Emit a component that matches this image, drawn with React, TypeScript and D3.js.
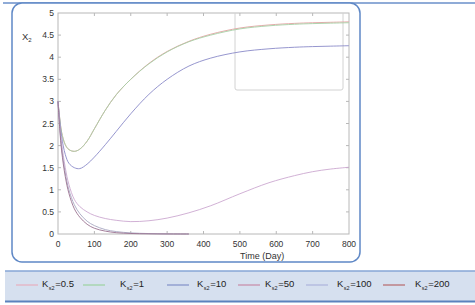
import * as d3 from "d3";
import { useEffect, useRef } from "react";

const times = [0, 5, 10, 20, 30, 45, 60, 80, 100, 130, 160, 200, 250, 300, 360, 420, 500, 580, 650, 700, 750, 800];

const ks05 = [3.0, 2.6, 2.3, 2.02, 1.91, 1.87, 1.92, 2.1, 2.38, 2.8, 3.15, 3.5, 3.86, 4.13, 4.36, 4.52, 4.66, 4.73, 4.765, 4.78, 4.79, 4.8];
const ks1 = [3.0, 2.6, 2.3, 2.02, 1.91, 1.87, 1.92, 2.1, 2.38, 2.8, 3.15, 3.5, 3.85, 4.12, 4.35, 4.5, 4.64, 4.71, 4.745, 4.76, 4.77, 4.78];
const ks10 = [3.0, 2.55, 2.2, 1.8, 1.6, 1.5, 1.48, 1.58, 1.74, 2.02, 2.32, 2.72, 3.16, 3.5, 3.8, 3.98, 4.12, 4.19, 4.225, 4.24, 4.25, 4.26];
const ks50 = [3.0, 2.45, 2.05, 1.5, 1.12, 0.78, 0.62, 0.5, 0.42, 0.35, 0.31, 0.28, 0.3, 0.36, 0.48, 0.64, 0.91, 1.16, 1.32, 1.41, 1.47, 1.51];
const ks100 = [3.0, 2.4, 1.95, 1.38, 1.0, 0.66, 0.46, 0.29, 0.19, 0.1, 0.055, 0.025, 0.01, 0.003, 0];
const ks200 = [3.0, 2.35, 1.88, 1.3, 0.92, 0.57, 0.38, 0.22, 0.13, 0.065, 0.03, 0.012, 0.004, 0.001, 0];

const xTicks = [0, 100, 200, 300, 400, 500, 600, 700, 800];
const yTicks = [0, 0.5, 1, 1.5, 2, 2.5, 3, 3.5, 4, 4.5, 5];

const legendLabels = ["0.5", "1", "10", "50", "100", "200"];
const lineColors = ["#e2a0a0", "#a6d0a6", "#8a8ac8", "#cca8d0", "#a8a8c2", "#9a7090"];
const legendColors = ["#eaa4b4", "#90d090", "#7080c0", "#c47898", "#a4aad8", "#b05050"];
const legendX = [16, 83, 167, 238, 306, 383];
const legendTextX = [42, 120, 197, 265, 337, 415];

const App = () => {
    const ref = useRef<SVGSVGElement>(null);

    useEffect(() => {
        const svg = d3.select(ref.current);
        svg.selectAll("*").remove();

        const x = d3.scaleLinear().domain([0, 800]).range([58, 349]);
        const y = d3.scaleLinear().domain([0, 5]).range([234, 13]);

        // outer rounded frame and top rule
        svg.append("path")
            .attr("d", "M3,3 H475")
            .attr("stroke", "#6a8fca").attr("stroke-width", 1.5).attr("fill", "none");
        svg.append("rect")
            .attr("x", 12).attr("y", 3).attr("width", 348).attr("height", 259)
            .attr("rx", 10).attr("fill", "white")
            .attr("stroke", "#5f88c6").attr("stroke-width", 1.5);

        // plot frame
        svg.append("rect")
            .attr("x", 58).attr("y", 13).attr("width", 291).attr("height", 221)
            .attr("fill", "none").attr("stroke", "#b8b8b8").attr("stroke-width", 1);

        // zoom inset box
        svg.append("path")
            .attr("d", "M235,13 V88 Q235,90 237,90 H341 Q343,90 343,88 V13")
            .attr("fill", "none").attr("stroke", "#d2d2d2").attr("stroke-width", 1);

        const g = svg.append("g").attr("font-family", "'Liberation Sans Narrow', 'Liberation Sans', Arial, sans-serif")
            .attr("font-size", 8.5).attr("fill", "#333");

        // ticks inward on all sides
        xTicks.slice(1, -1).forEach(t => {
            g.append("line").attr("x1", x(t)).attr("x2", x(t)).attr("y1", 234).attr("y2", 231).attr("stroke", "#b8b8b8");
            g.append("line").attr("x1", x(t)).attr("x2", x(t)).attr("y1", 13).attr("y2", 16).attr("stroke", "#b8b8b8");
        });
        yTicks.slice(1, -1).forEach(v => {
            g.append("line").attr("x1", 58).attr("x2", 61).attr("y1", y(v)).attr("y2", y(v)).attr("stroke", "#b8b8b8");
            g.append("line").attr("x1", 349).attr("x2", 346).attr("y1", y(v)).attr("y2", y(v)).attr("stroke", "#b8b8b8");
        });

        g.selectAll(".xl").data(xTicks).join("text")
            .attr("x", d => x(d)).attr("y", 247).attr("text-anchor", "middle").text(d => d);
        g.selectAll(".yl").data(yTicks).join("text")
            .attr("x", 54).attr("y", d => y(d) + 3).attr("text-anchor", "end").text(d => d);

        // axis titles
        const yt = g.append("text").attr("x", 22).attr("y", 40).attr("font-size", 9.5);
        yt.append("tspan").text("X");
        yt.append("tspan").attr("font-size", 6).attr("dy", 2).text("2");
        svg.append("text").attr("x", 240).attr("y", 258.5)
            .attr("font-family", "'Liberation Sans', Arial, sans-serif").attr("font-size", 9)
            .attr("fill", "#333").text("Time (Day)");

        // curves
        const series = [ks05, ks1, ks10, ks50, ks100, ks200];
        const line = d3.line<number>()
            .x((_, i) => x(times[i]))
            .y(d => y(Math.max(0, d)))
            .curve(d3.curveCatmullRom.alpha(0.5));
        series.forEach((s, i) => {
            svg.append("path")
                .attr("d", line(s))
                .attr("fill", "none")
                .attr("stroke", lineColors[i])
                .attr("stroke-width", 0.9);
        });

        // legend
        svg.append("rect").attr("x", 5).attr("y", 271).attr("width", 470).attr("height", 30).attr("fill", "#d6e0ef");
        svg.append("line").attr("x1", 5).attr("x2", 475).attr("y1", 271).attr("y2", 271).attr("stroke", "#86a6d6").attr("stroke-width", 1.5);
        svg.append("line").attr("x1", 5).attr("x2", 475).attr("y1", 301.5).attr("y2", 301.5).attr("stroke", "#5b82bd").attr("stroke-width", 2);

        const lg = svg.append("g").attr("font-family", "'Liberation Sans', Arial, sans-serif").attr("fill", "#222");
        legendLabels.forEach((lab, i) => {
            const lx = legendX[i];
            lg.append("line").attr("x1", lx).attr("x2", lx + 22).attr("y1", 285).attr("y2", 285)
                .attr("stroke", legendColors[i]).attr("stroke-width", 1);
            const t = lg.append("text").attr("x", legendTextX[i]).attr("y", 287).attr("font-size", 9.5);
            t.append("tspan").text("K");
            t.append("tspan").attr("font-size", 5.5).attr("dy", 3).attr("dx", 0.5).text("s2");
            t.append("tspan").attr("dy", -3).attr("dx", 0.5).text("=" + lab);
        });
    }, []);

    return <svg ref={ref} width={475} height={305} style={{ position: "absolute", left: 0, top: 0 }} />;
};

export default App;
